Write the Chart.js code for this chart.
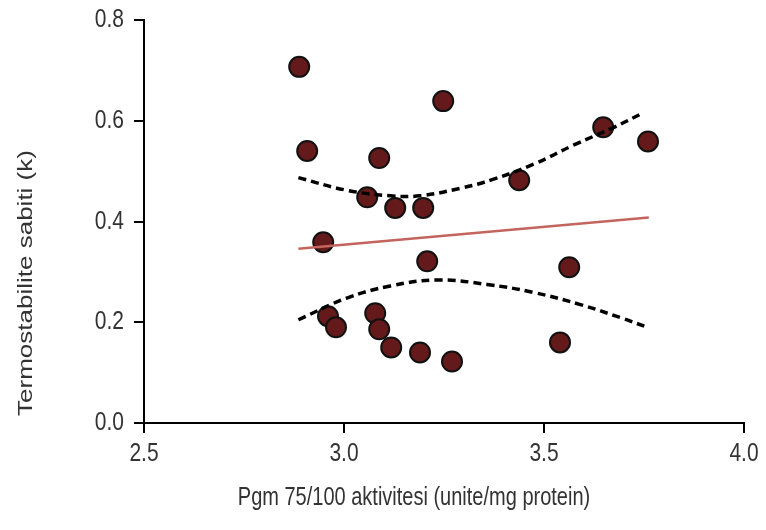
<!DOCTYPE html>
<html>
<head>
<meta charset="utf-8">
<script src="https://cdn.jsdelivr.net/npm/chart.js@4"></script>
<style>
  body { margin: 0; background: #fff; }
</style>
</head>
<body>
<canvas id="scatterChart" width="766" height="530"></canvas>
<script>
const ctx = document.getElementById("scatterChart");

// measured points: Pgm 75/100 activity vs thermostability constant
const pgmX = [2.888, 2.908, 3.088, 3.248, 3.058, 3.128, 3.198, 2.948, 3.208, 3.438, 3.648,
  3.760, 3.563, 2.960, 2.980, 3.078, 3.088, 3.118, 3.190, 3.270, 3.540];
const kY = [0.707, 0.540, 0.526, 0.639, 0.448, 0.427, 0.427, 0.359, 0.321, 0.482, 0.587,
  0.559, 0.309, 0.212, 0.190, 0.218, 0.186, 0.150, 0.140, 0.122, 0.160];

// regression line ends
const fitX = [2.886, 3.762];
const fitY = [0.346, 0.408];

// confidence band
const upperX = [2.886, 3.007, 3.116, 3.190, 3.291, 3.374, 3.475, 3.575, 3.675, 3.746];
const upperY = [0.487, 0.462, 0.451, 0.451, 0.466, 0.484, 0.514, 0.552, 0.587, 0.615];
const lowerX = [2.886, 3.007, 3.116, 3.233, 3.358, 3.475, 3.591, 3.692, 3.758];
const lowerY = [0.205, 0.248, 0.272, 0.284, 0.275, 0.259, 0.235, 0.209, 0.190];

const xTicks = [2.5, 3.0, 3.5, 4.0];
const yTicks = [0.0, 0.2, 0.4, 0.6, 0.8];

const xTitle = "Pgm 75/100 aktivitesi (unite/mg protein)";
const yTitle = "Termostabilite sabiti (k)";

function toPoints(xs, ys) {
  return xs.map((x, i) => ({ x: x, y: ys[i] }));
}

// the original text is tall and thin, so labels and titles are drawn
// here with a vertical stretch instead of by the scales themselves
const stretchedText = {
  id: "stretchedText",
  afterDraw(chart) {
    const c = chart.ctx;
    const area = chart.chartArea;
    const xs = chart.scales.x;
    const ys = chart.scales.y;
    c.save();
    c.fillStyle = "#333";
    c.font = "20px 'Liberation Sans', Arial, sans-serif";
    c.textBaseline = "middle";

    // tick labels
    c.textAlign = "center";
    xTicks.forEach((v) => {
      c.save();
      c.translate(xs.getPixelForValue(v), 454);
      c.scale(1.05, 1.3);
      c.fillText(v.toFixed(1), 0, 0);
      c.restore();
    });
    c.textAlign = "right";
    yTicks.forEach((v) => {
      c.save();
      c.translate(area.left - 20, ys.getPixelForValue(v));
      c.scale(1.05, 1.3);
      c.fillText(v.toFixed(1), 0, 0);
      c.restore();
    });

    // axis titles
    c.textAlign = "center";
    c.save();
    c.translate((area.left + area.right) / 2 - 30, 498);
    c.scale(1, 1.3);
    c.fillText(xTitle, 0, 0);
    c.restore();

    c.save();
    c.translate(26, 283);
    c.rotate(-Math.PI / 2);
    c.scale(1.3, 1);
    c.fillText(yTitle, 0, 0);
    c.restore();

    c.restore();
  },
};

const chart = new Chart(ctx, {
  type: "scatter",
  data: {
    datasets: [
      {
        label: "upper",
        type: "line",
        data: toPoints(upperX, upperY),
        borderColor: "#000",
        borderWidth: 3.5,
        borderDash: [8, 5],
        pointRadius: 0,
        tension: 0.4,
        fill: false,
      },
      {
        label: "lower",
        type: "line",
        data: toPoints(lowerX, lowerY),
        borderColor: "#000",
        borderWidth: 3.5,
        borderDash: [8, 5],
        pointRadius: 0,
        tension: 0.4,
        fill: false,
      },
      {
        label: "fit",
        type: "line",
        data: toPoints(fitX, fitY),
        borderColor: "#c4645e",
        borderWidth: 2.5,
        pointRadius: 0,
        fill: false,
      },
      {
        label: "k",
        data: toPoints(pgmX, kY),
        backgroundColor: "#641a1a",
        borderColor: "#111",
        borderWidth: 2,
        pointRadius: 10,
        pointHoverRadius: 10,
      },
    ],
  },
  options: {
    responsive: false,
    animation: false,
    layout: {
      padding: { top: 20, right: 22, left: 0, bottom: 0 },
    },
    plugins: {
      legend: { display: false },
      tooltip: { enabled: false },
    },
    scales: {
      x: {
        type: "linear",
        min: 2.5,
        max: 4.0,
        afterBuildTicks: (scale) => {
          scale.ticks = xTicks.map((v) => ({ value: v }));
        },
        afterFit: (scale) => {
          scale.height = 107;
        },
        ticks: { display: false },
        grid: {
          drawOnChartArea: false,
          drawTicks: true,
          tickLength: 10,
          color: "#000",
          lineWidth: 2,
        },
        border: { color: "#000", width: 2 },
      },
      y: {
        type: "linear",
        min: 0,
        max: 0.8,
        afterBuildTicks: (scale) => {
          scale.ticks = yTicks.map((v) => ({ value: v }));
        },
        afterFit: (scale) => {
          scale.width = 144;
        },
        ticks: { display: false },
        grid: {
          drawOnChartArea: false,
          drawTicks: true,
          tickLength: 10,
          color: "#000",
          lineWidth: 2,
        },
        border: { color: "#000", width: 2 },
      },
    },
  },
  plugins: [stretchedText],
});
</script>
</body>
</html>
